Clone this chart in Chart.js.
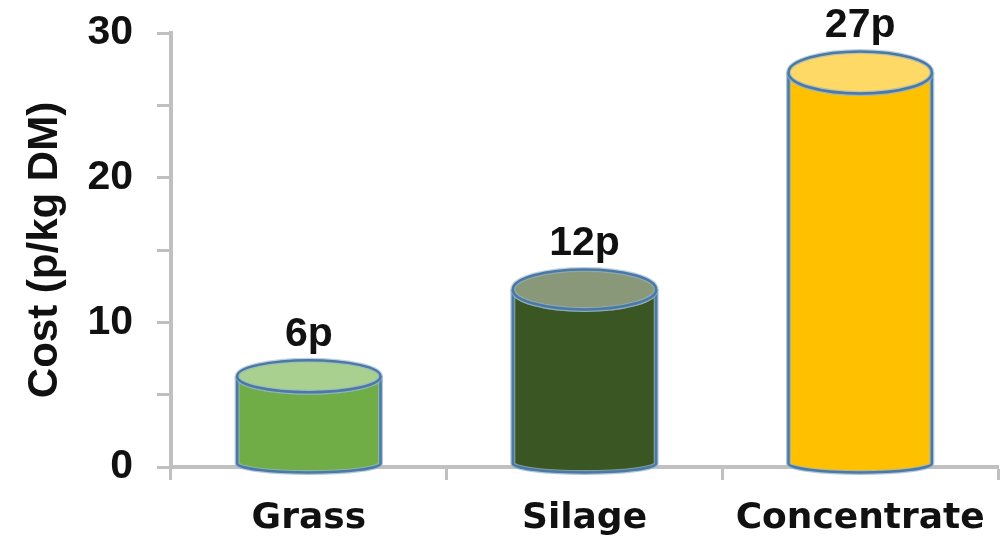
<!DOCTYPE html>
<html>
<head>
<meta charset="utf-8">
<script src="https://cdn.jsdelivr.net/npm/chart.js@4/dist/chart.umd.min.js"></script>
<style>
  html, body { margin: 0; padding: 0; background: #fff; }
  #wrap { width: 1007px; height: 540px; }
</style>
</head>
<body>
<div id="wrap"><canvas id="costChart" width="1007" height="540"></canvas></div>
<script>
// chart data
const categories = ['Grass', 'Silage', 'Concentrate']
const costValues = [6, 12, 27]
const valueLabels = ['6p', '12p', '27p']
const yTickLabels = [0, 10, 20, 30]

// cylinder look
const bodyColors = ['#70AD47', '#3A5623', '#FFC000']
const topColors = ['#A9D08E', '#889878', '#FFD966']
const topRadiusY = [16, 20, 21]

const fontName = '"Liberation Sans", Arial, sans-serif'
const wideFont = '"DejaVu Sans", Verdana, sans-serif'

// draws each bar as a 3d-ish cylinder plus the value label on top
const cylinderPlugin = {
  id: 'cylinders',
  afterDatasetsDraw(chart) {
    const ctx = chart.ctx
    const meta = chart.getDatasetMeta(0)
    meta.data.forEach((bar, i) => {
      const cx = bar.x
      const rx = bar.width / 2
      const topY = bar.y - 4
      const ryT = topRadiusY[i]
      const baseY = bar.base - 3
      const ryB = 9

      ctx.save()
      // body
      ctx.beginPath()
      ctx.moveTo(cx - rx, topY)
      ctx.lineTo(cx - rx, baseY)
      ctx.ellipse(cx, baseY, rx, ryB, 0, Math.PI, 0, true)
      ctx.lineTo(cx + rx, topY)
      ctx.ellipse(cx, topY, rx, ryT, 0, 0, Math.PI, false)
      ctx.closePath()
      ctx.fillStyle = bodyColors[i]
      ctx.fill()
      ctx.lineWidth = 5
      ctx.strokeStyle = 'rgba(150,180,205,0.75)'
      ctx.stroke()
      ctx.lineWidth = 2.5
      ctx.strokeStyle = '#4A79A5'
      ctx.stroke()

      // top face
      ctx.beginPath()
      ctx.ellipse(cx, topY, rx, ryT, 0, 0, Math.PI * 2)
      ctx.fillStyle = topColors[i]
      ctx.fill()
      ctx.lineWidth = 5
      ctx.strokeStyle = 'rgba(150,180,205,0.6)'
      ctx.stroke()
      ctx.lineWidth = 2.5
      ctx.strokeStyle = '#4A79A5'
      ctx.stroke()

      // label
      ctx.fillStyle = '#111'
      ctx.font = 'bold 41px ' + fontName
      ctx.textAlign = 'center'
      ctx.textBaseline = 'alphabetic'
      ctx.fillText(valueLabels[i], cx, topY - ryT - 14)
      ctx.restore()
    })
  }
}

const ctx = document.getElementById('costChart').getContext('2d')
const costChart = new Chart(ctx, {
  type: 'bar',
  data: {
    labels: categories,
    datasets: [{
      data: costValues,
      backgroundColor: 'rgba(0,0,0,0)',
      borderWidth: 0,
      barPercentage: 1,
      categoryPercentage: 0.52
    }]
  },
  options: {
    responsive: false,
    animation: false,
    layout: { padding: { top: 33, right: 9, left: 0, bottom: 0 } },
    plugins: {
      legend: { display: false },
      tooltip: { enabled: false }
    },
    scales: {
      x: {
        afterFit: s => { s.height = 73; s.paddingLeft = 0; s.paddingRight = 0 },
        grid: {
          display: true,
          drawOnChartArea: false,
          drawTicks: true,
          tickLength: 13,
          tickWidth: 3,
          tickColor: '#C0C0C0',
          offset: true
        },
        border: { display: true, color: '#C0C0C0', width: 4 },
        ticks: {
          color: '#111',
          padding: 17,
          font: { family: wideFont, size: 36, weight: 'bold' }
        }
      },
      y: {
        min: 0,
        max: 30,
        afterFit: s => { s.width = 171; s.paddingTop = 0; s.paddingBottom = 0 },
        afterBuildTicks: s => {
          s.ticks = [0, 5, 10, 15, 20, 25, 30].map(v => ({ value: v }))
        },
        grid: {
          display: true,
          drawOnChartArea: false,
          drawTicks: true,
          tickLength: 14,
          tickWidth: 3,
          tickColor: '#C0C0C0'
        },
        border: { display: true, color: '#C0C0C0', width: 4 },
        ticks: {
          color: '#111',
          padding: 24,
          font: { family: fontName, size: 41, weight: 'bold' },
          callback: v => yTickLabels.includes(v) ? String(v) : ''
        },
        title: {
          display: true,
          text: 'Cost (p/kg DM)',
          color: '#111',
          padding: { top: 20, bottom: 0 },
          font: { family: fontName, size: 42, weight: 'bold' }
        }
      }
    }
  },
  plugins: [cylinderPlugin]
})
</script>
</body>
</html>
